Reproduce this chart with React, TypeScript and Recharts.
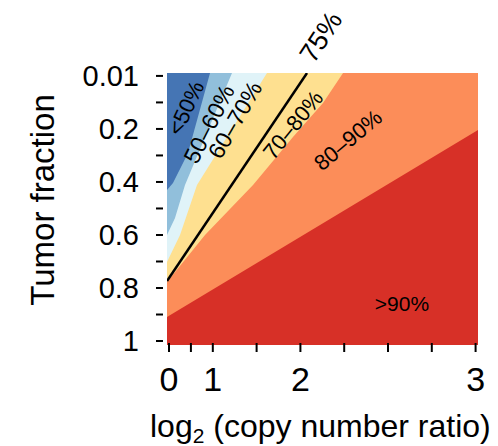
import React from "react";
import { ComposedChart, Area, Line, Scatter, XAxis, YAxis } from "recharts";

// x = copy number ratio (axis labelled with log2 of it), y = tumor fraction
const xTicks = [1, 1.5, 2, 3, 4, 5, 6, 7, 8];
const xLabelTicks = [1, 2, 4, 8];
const xLabels = ["0", "1", "2", "3"];
const yTicks = [0, 0.1, 0.2, 0.3, 0.4, 0.5, 0.6, 0.7, 0.8, 0.9, 1];
const yLabelTicks = [0, 0.2, 0.4, 0.6, 0.8, 1];
const yLabels = ["0.01", "0.2", "0.4", "0.6", "0.8", "1"];

// band edges, (ratio, fraction) points
const edgeTop = [{ x: 0.954, y: -0.011 }, { x: 8.055, y: -0.011 }];
const edge50 = [{ x: 0.954, y: 0.43 }, { x: 1.091, y: 0.404 }, { x: 1.434, y: 0.291 }, { x: 1.936, y: -0.011 }, { x: 8.055, y: -0.011 }];
const edge60 = [{ x: 0.954, y: 0.6 }, { x: 1.137, y: 0.536 }, { x: 1.365, y: 0.411 }, { x: 2.438, y: -0.011 }, { x: 8.055, y: -0.011 }];
const edge70 = [{ x: 0.954, y: 0.702 }, { x: 1.251, y: 0.6 }, { x: 1.639, y: 0.411 }, { x: 2.324, y: 0.23 }, { x: 3.237, y: -0.011 }, { x: 8.055, y: -0.011 }];
const edge80 = [{ x: 0.954, y: 0.777 }, { x: 1.822, y: 0.6 }, { x: 2.918, y: 0.411 }, { x: 3.831, y: 0.23 }, { x: 4.516, y: 0.102 }, { x: 4.973, y: -0.011 }, { x: 8.055, y: -0.011 }];
const edge90 = [{ x: 0.954, y: 0.909 }, { x: 4.904, y: 0.517 }, { x: 8.055, y: 0.204 }];
const line75 = [{ x: 0.954, y: 0.774 }, { x: 4.151, y: -0.011 }];

const bandNames = ["<50%", "50–60%", "60–70%", "70–80%", "80–90%", ">90%"];
const bandLabelX = [1.388, 1.913, 2.507, 3.831, 5.087, 6.32];
const bandLabelY = [0.121, 0.181, 0.166, 0.185, 0.242, 0.857];

const bands = [edgeTop, edge50, edge60, edge70, edge80, edge90];
const bandColors = ["#4575b4", "#91bfdb", "#e0f3f8", "#fee090", "#fc8d59", "#d73027"];
const labelAngles = [-65, -63, -60, -51, -40, 0];
const labelSizes = [22, 23, 23, 22, 22, 21];
const FONT = '"Liberation Sans", Arial, Helvetica, sans-serif';

const labelPoints = bandNames.map((name, i) => ({ x: bandLabelX[i], y: bandLabelY[i], name, i }));

const XTick = (props: any) => {
    const { x, y, payload } = props;
    const idx = xLabelTicks.indexOf(payload.value);
    return (
        <g>
            <line x1={x} x2={x} y1={y - 2} y2={y + 7} stroke="#000" strokeWidth={2} />
            {idx >= 0 && (
                <text x={x} y={y + 46} textAnchor="middle" fontSize={34} fontFamily={FONT} fill="#000">
                    {xLabels[idx]}
                </text>
            )}
        </g>
    );
};

const YTick = (props: any) => {
    const { x, y, payload } = props;
    const idx = yLabelTicks.indexOf(payload.value);
    return (
        <g>
            <line x1={x - 11} x2={x - 4} y1={y} y2={y} stroke="#000" strokeWidth={2} />
            {idx >= 0 && (
                <text x={x - 28} y={y} dy="0.36em" textAnchor="end" fontSize={29} fontFamily={FONT} fill="#000">
                    {yLabels[idx]}
                </text>
            )}
        </g>
    );
};

// label "75%" at the top end of the black line
const render75 = (props: any) => {
    const { x, y, index } = props;
    if (index !== line75.length - 1) return <g />;
    return (
        <text x={x + 14} y={y - 36} transform={`rotate(-57 ${x + 14} ${y - 36})`} textAnchor="middle" dominantBaseline="central" fontSize={27} fontFamily={FONT} fill="#000">
            75%
        </text>
    );
};

const BandLabel = (props: any) => {
    const { cx, cy, payload } = props;
    return (
        <text x={cx} y={cy} transform={`rotate(${labelAngles[payload.i]} ${cx} ${cy})`} textAnchor="middle" dominantBaseline="central" fontSize={labelSizes[payload.i]} fontFamily={FONT} fill="#000">
            {payload.name}
        </text>
    );
};

export default function App() {
    return (
        <div style={{ position: "absolute", left: 0, top: 0 }}>
            <ComposedChart width={498} height={446} margin={{ top: 73, right: 20, bottom: 0, left: 0 }}>
                <XAxis
                    type="number"
                    dataKey="x"
                    domain={[0.954, 8.055]}
                    allowDataOverflow
                    ticks={xTicks}
                    interval={0}
                    axisLine={false}
                    tickLine={false}
                    tickSize={0}
                    tickMargin={0}
                    height={101}
                    tick={XTick}
                    label={{
                        content: () => (
                            <text x={150} y={437} fontSize={32} fontFamily={FONT} fill="#000">
                                log<tspan fontSize={21} dy={6}>2</tspan>
                                <tspan dy={-6}> (copy number ratio)</tspan>
                            </text>
                        ),
                    }}
                />
                <YAxis
                    type="number"
                    dataKey="y"
                    domain={[-0.011, 1.015]}
                    reversed
                    allowDataOverflow
                    ticks={yTicks}
                    interval={0}
                    width={167}
                    axisLine={false}
                    tickLine={false}
                    tickSize={0}
                    tickMargin={0}
                    tick={YTick}
                    label={{
                        content: () => (
                            <text x={54} y={200} transform="rotate(-90 54 200)" textAnchor="middle" fontSize={33} fontFamily={FONT} fill="#000">
                                Tumor fraction
                            </text>
                        ),
                    }}
                />
                {bands.map((d, i) => (
                    <Area
                        key={i}
                        data={d}
                        dataKey="y"
                        type="linear"
                        baseValue={1.015}
                        fill={bandColors[i]}
                        fillOpacity={1}
                        stroke="none"
                        isAnimationActive={false}
                    />
                ))}
                <Line data={line75} dataKey="y" type="linear" stroke="#000" strokeWidth={2.5} dot={false} isAnimationActive={false} label={render75} />
                <Scatter data={labelPoints} dataKey="y" shape={BandLabel} isAnimationActive={false} />
            </ComposedChart>
        </div>
    );
}
